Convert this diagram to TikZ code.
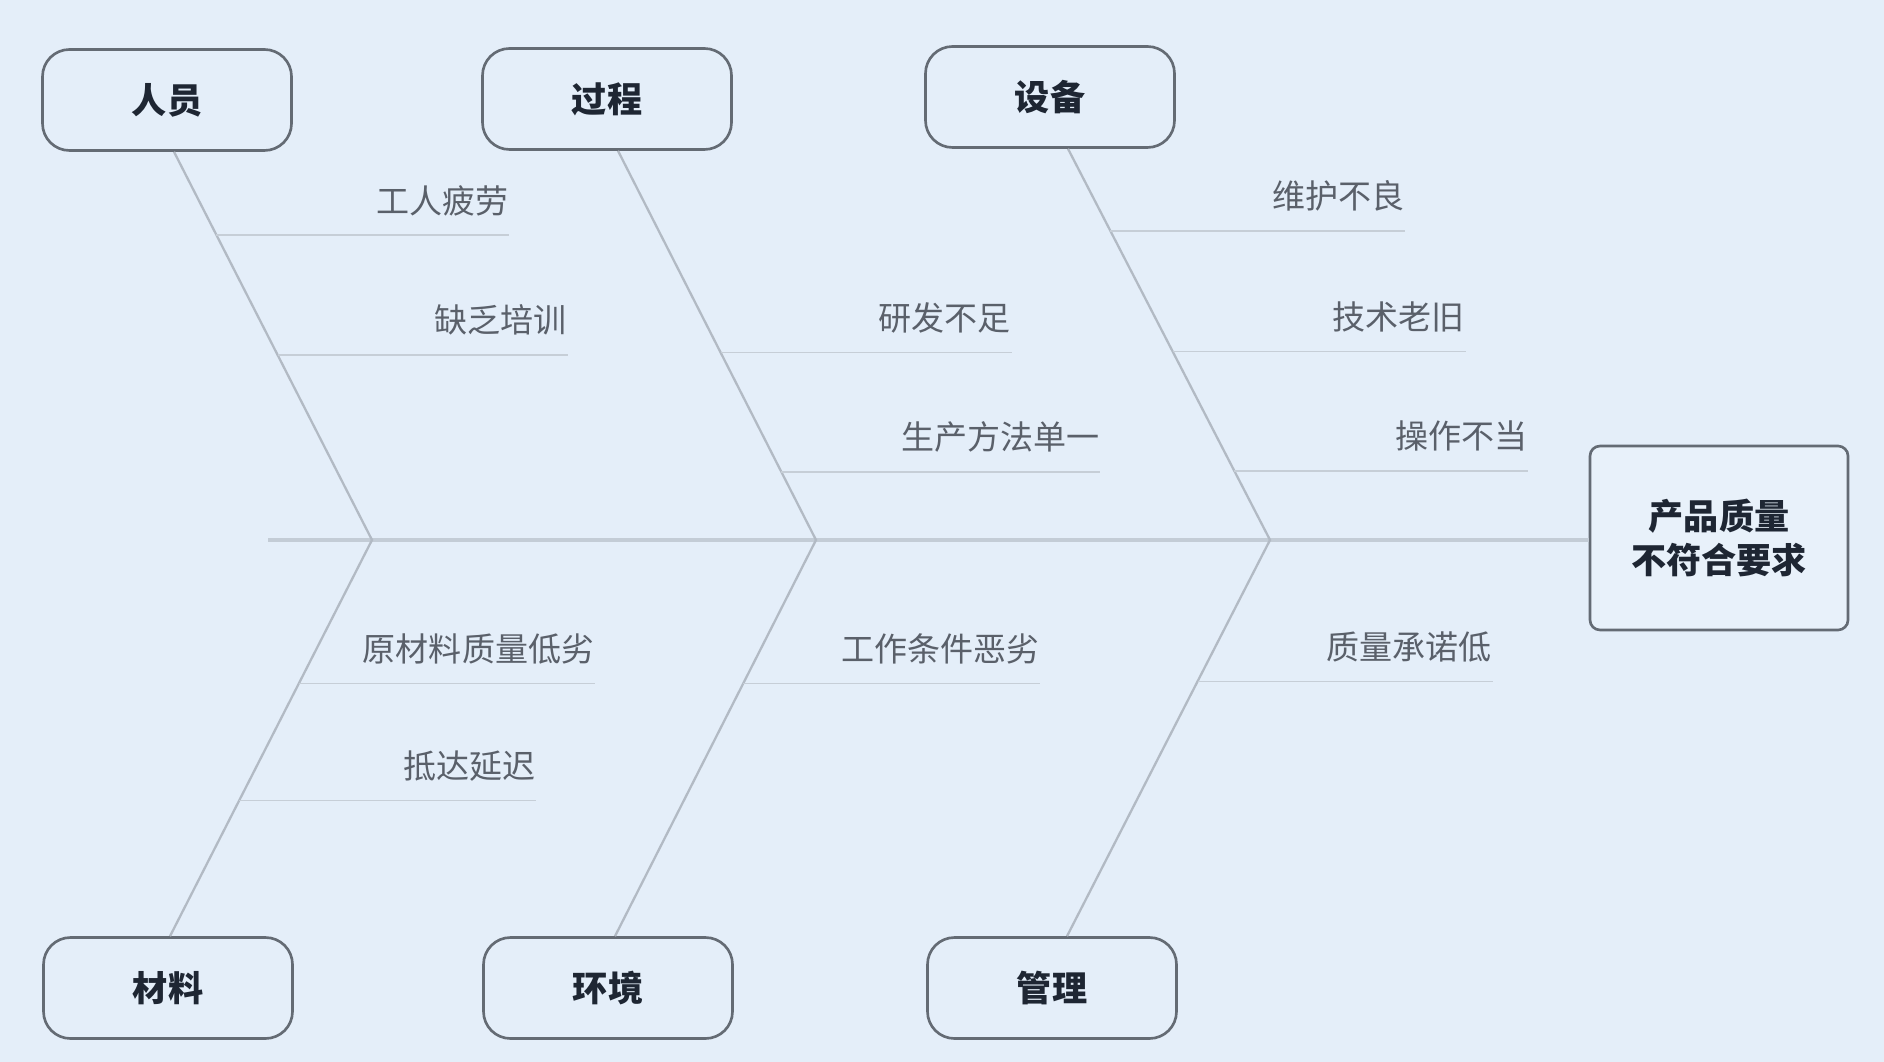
\documentclass[tikz,border=0pt]{standalone}
\usepackage{fontspec}
\setmainfont{Noto Sans CJK SC}
\usetikzlibrary{calc, positioning}

\definecolor{bgblue}{HTML}{E4EEF9}
\definecolor{spinegray}{HTML}{C3CCD6}
\definecolor{bonegray}{HTML}{B2BAC4}
\definecolor{twiggray}{HTML}{C6CED7}
\definecolor{boxedge}{HTML}{646B74}
\definecolor{labelink}{HTML}{1E2633}
\definecolor{causeink}{HTML}{5A606A}

\begin{document}
\begin{tikzpicture}[
	x=0.1mm, y=-0.1mm,
	catbox/.style={draw=boxedge, line width=0.75pt, rounded corners=2.7mm, minimum width=24.9mm, minimum height=10.1mm, font=\fontsize{10}{12}\selectfont\bfseries, text=labelink},
	effectbox/.style={draw=boxedge, line width=0.75pt, rounded corners=1mm, fill=bgblue!85!white, minimum width=25.8mm, minimum height=18.4mm, align=center, font=\fontsize{10}{12.5}\selectfont\bfseries, text=labelink},
	cause/.style={anchor=south east, inner xsep=0pt, inner ysep=1.85mm, font=\fontsize{9.4}{11}\selectfont, text=causeink},
	spine/.style={draw=spinegray, line width=1.2pt},
	bone/.style={draw=bonegray, line width=0.65pt},
	twig/.style={draw=twiggray, line width=0.45pt}
	]
		\fill[bgblue] (0,0) rectangle (1884,1062);
		\useasboundingbox (0,0) rectangle (1884,1062);

		\node[catbox]		(people)		at	(167,100)		{人员};
		\node[catbox]		(process)		at	(607,99)		{过程};
		\node[catbox]		(equipment)	at	(1050,97)		{设备};
		\node[catbox]		(material)		at	(168,988)		{材料};
		\node[catbox]		(environment)	at	(608,988)		{环境};
		\node[catbox]		(management)	at	(1052,988)		{管理};
		\node[effectbox]	(effect)		at	(1719,538)		{产品质量\\不符合要求};

		\coordinate	(tail)			at	(268,540);
		\coordinate	(peoplejoint)		at	(372,540);
		\coordinate	(processjoint)	at	(816,540);
		\coordinate	(equipjoint)		at	(1270,540);
		\draw[spine] (tail) -- (tail -| effect.west);

		\draw[bone] ([xshift=0.7mm]people.south) -- (peoplejoint) -- ([xshift=0.2mm]material.north);
		\draw[bone] ([xshift=1.1mm]process.south) -- (processjoint) -- ([xshift=0.7mm]environment.north);
		\draw[bone] ([xshift=1.8mm]equipment.south) -- (equipjoint) -- ([xshift=1.5mm]management.north);

		\coordinate	(fatiguestart)	at	($([xshift=0.7mm]people.south)!0.214!(peoplejoint)$);
		\coordinate	(trainingstart)	at	($([xshift=0.7mm]people.south)!0.523!(peoplejoint)$);
		\coordinate	(researchstart)	at	($([xshift=1.1mm]process.south)!0.518!(processjoint)$);
		\coordinate	(methodstart)		at	($([xshift=1.1mm]process.south)!0.825!(processjoint)$);
		\coordinate	(maintainstart)	at	($([xshift=1.8mm]equipment.south)!0.21!(equipjoint)$);
		\coordinate	(techstart)		at	($([xshift=1.8mm]equipment.south)!0.518!(equipjoint)$);
		\coordinate	(operatestart)	at	($([xshift=1.8mm]equipment.south)!0.823!(equipjoint)$);
		\coordinate	(rawmatstart)		at	($(peoplejoint)!0.362!([xshift=0.2mm]material.north)$);
		\coordinate	(delaystart)		at	($(peoplejoint)!0.658!([xshift=0.2mm]material.north)$);
		\coordinate	(workcondstart)	at	($(processjoint)!0.362!([xshift=0.7mm]environment.north)$);
		\coordinate	(commitstart)		at	($(equipjoint)!0.357!([xshift=1.5mm]management.north)$);

		\draw[twig] (fatiguestart) -- ++(293,0) coordinate (fatigueend);
		\draw[twig] (trainingstart) -- ++(290,0) coordinate (trainingend);
		\draw[twig] (researchstart) -- ++(291,0) coordinate (researchend);
		\draw[twig] (methodstart) -- ++(319,0) coordinate (methodend);
		\draw[twig] (maintainstart) -- ++(295,0) coordinate (maintainend);
		\draw[twig] (techstart) -- ++(293,0) coordinate (techend);
		\draw[twig] (operatestart) -- ++(294,0) coordinate (operateend);
		\draw[twig] (rawmatstart) -- ++(296,0) coordinate (rawmatend);
		\draw[twig] (delaystart) -- ++(297,0) coordinate (delayend);
		\draw[twig] (workcondstart) -- ++(297,0) coordinate (workcondend);
		\draw[twig] (commitstart) -- ++(295,0) coordinate (commitend);

		\node[cause]	(fatigue)		at	(fatigueend)		{工人疲劳};
		\node[cause]	(training)		at	(trainingend)		{缺乏培训};
		\node[cause]	(research)		at	(researchend)		{研发不足};
		\node[cause]	(method)		at	(methodend)		{生产方法单一};
		\node[cause]	(maintain)		at	(maintainend)		{维护不良};
		\node[cause]	(tech)			at	(techend)			{技术老旧};
		\node[cause]	(operate)		at	(operateend)		{操作不当};
		\node[cause]	(rawmat)		at	(rawmatend)		{原材料质量低劣};
		\node[cause]	(delay)		at	(delayend)		{抵达延迟};
		\node[cause]	(workcond)		at	(workcondend)		{工作条件恶劣};
		\node[cause]	(commit)		at	(commitend)		{质量承诺低};
	\end{tikzpicture}
\end{document}
